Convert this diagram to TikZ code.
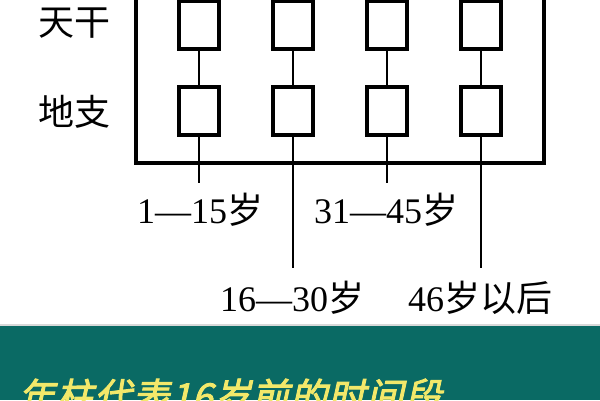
\documentclass[tikz,border=0pt]{standalone}
\usepackage{fontspec}
\setmainfont{Liberation Serif}
\newfontfamily\cjk{Noto Sans CJK SC}
\newfontfamily\cjkbold[FakeBold=2.5,FakeSlant=0.22,LetterSpace=3]{Noto Sans CJK SC}
\definecolor{bandteal}{HTML}{0A6A64}
\definecolor{banner}{HTML}{F2E86A}
\tikzset{
  pillar/.style={draw=black, line width=4pt, minimum width=40pt, minimum height=48pt, inner sep=0pt, fill=white},
  link/.style={draw=black, line width=2.2pt},
  frame/.style={draw=black, line width=3.2pt},
  lbl/.style={font=\fontsize{36}{38}\selectfont, inner sep=0pt},
  rowlbl/.style={font=\cjk\fontsize{36}{38}\selectfont, inner sep=0pt}
}
\begin{document}
\begin{tikzpicture}[x=1pt,y=1pt]
\useasboundingbox (0,0) rectangle (600,400);
\clip (0,0) rectangle (600,400);
\fill[white] (0,0) rectangle (600,400);
\fill[bandteal] (0,0) rectangle (600,74);
\fill[gray!30] (0,74) rectangle (600,76);
% outer frame
\draw[frame] (136,410) -- (136,237) -- (544,237) -- (544,410);
% row labels
\node[rowlbl] (tg) at (74,377) {天干};
\node[rowlbl] (dz) at (74,288) {地支};
% pillars
\foreach \i/\x in {1/199,2/293,3/387,4/481}{
  \node[pillar] (t\i) at (\x,375) {};
  \node[pillar] (d\i) at (\x,289) {};
  \draw[link] (t\i) -- (d\i);
}
\coordinate (e1) at (199,217);
\coordinate (e2) at (293,132);
\coordinate (e3) at (387,217);
\coordinate (e4) at (481,132);
\foreach \i in {1,2,3,4}{ \draw[link] (d\i) -- (e\i); }
% age labels
\node[lbl] (a1) at (200,190) {1—15{\cjk 岁}};
\node[lbl] (a3) at (386,190) {31—45{\cjk 岁}};
\node[lbl] (a2) at (292,102) {16—30{\cjk 岁}};
\node[lbl] (a4) at (480,102) {46{\cjk 岁以后}};
% banner text
\node[anchor=base west, inner sep=0pt, text=banner, font=\cjkbold\fontsize{37}{40}\selectfont] (bt) at (18,-10) {年柱代表16岁前的时间段};
\end{tikzpicture}
\end{document}
